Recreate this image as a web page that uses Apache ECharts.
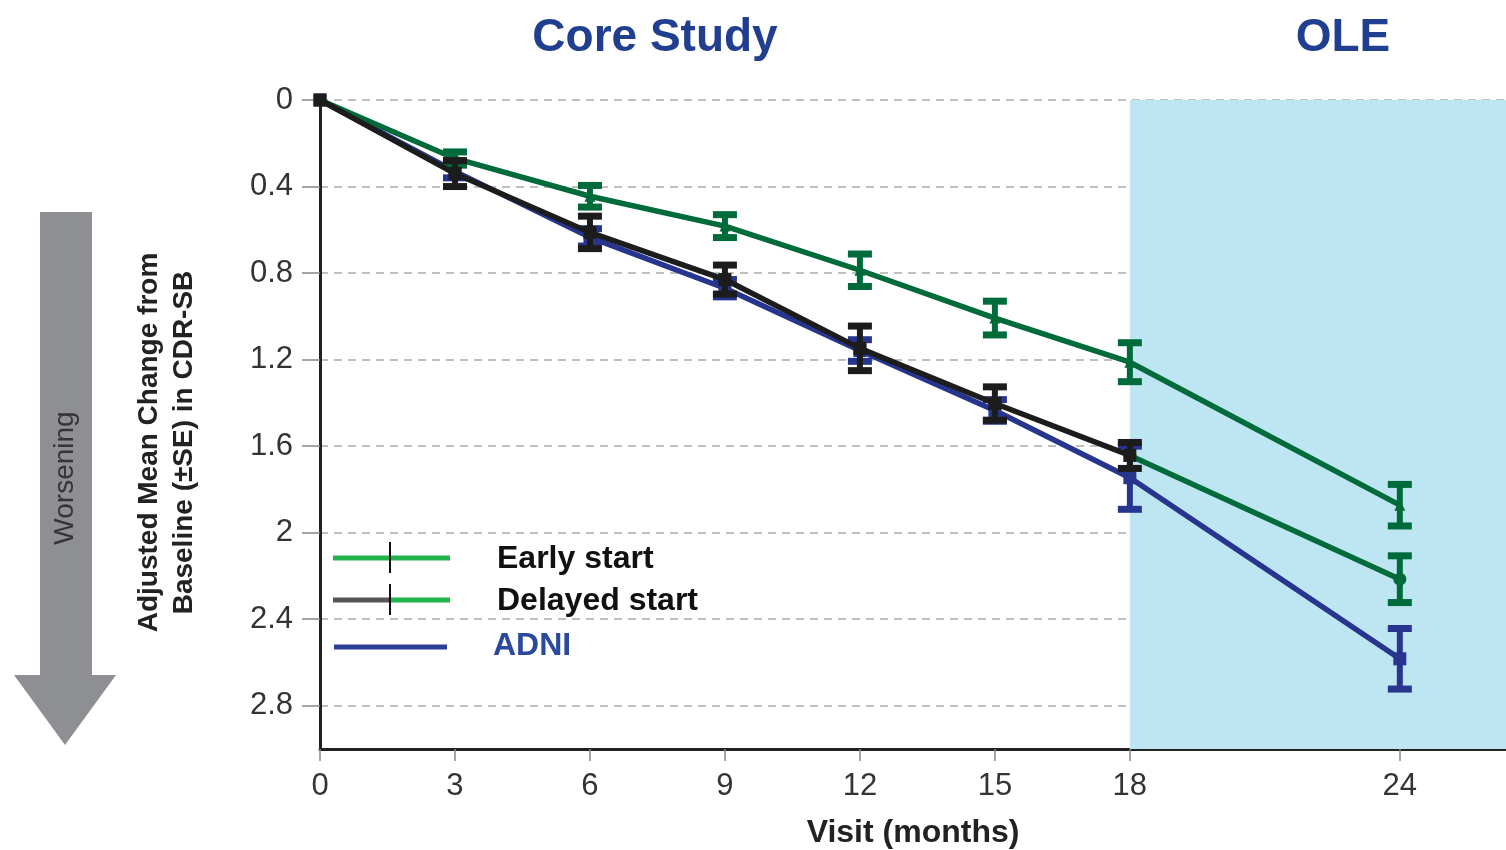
<!DOCTYPE html>
<html>
<head>
<meta charset="utf-8">
<script src="https://cdn.jsdelivr.net/npm/echarts@6/dist/echarts.min.js"></script>
<style>
html,body{margin:0;padding:0;background:#fff;}
#chart{width:1506px;height:850px;}
</style>
</head>
<body>
<div id="chart"></div>
<script>
// ---- data ----
const visits = [0, 3, 6, 9, 12, 15, 18, 24];
const earlyMean   = [0, 0.27, 0.445, 0.583, 0.787, 1.008, 1.212, 1.873];
const earlySE     = [0, 0.03, 0.05, 0.053, 0.075, 0.078, 0.09, 0.096];
const delayedMean = [0, 0.34, 0.612, 0.83, 1.148, 1.403, 1.643, 2.215];
const delayedSE   = [0, 0.06, 0.075, 0.067, 0.103, 0.077, 0.06, 0.108];
const adniMean    = [0, 0.33, 0.635, 0.87, 1.158, 1.435, 1.746, 2.583];
const adniSE      = [0, 0.03, 0.04, 0.04, 0.05, 0.05, 0.146, 0.14];
const xTickValues = [0, 3, 6, 9, 12, 15, 18, 24];
const yTickValues = [0, 0.4, 0.8, 1.2, 1.6, 2, 2.4, 2.8];
const oleStart = 18;
const xMax = 26.36;
const yMax = 3;
const seriesNames = ['Early start', 'Delayed start', 'ADNI'];
const periodTitles = ['Core Study', 'OLE'];

// ---- colours ----
const GREEN = '#006b3a';
const BLACK = '#1c1c1c';
const BLUE = '#27358f';

function pts(mean) { return visits.map((v, i) => [v, mean[i]]); }
function errs(mean, se) {
  return visits.map((v, i) => [v, mean[i] - se[i], mean[i] + se[i]]).filter((d, i) => se[i] > 0);
}
function errRender(colorFn) {
  return function (params, api) {
    const x = api.value(0), lo = api.value(1), hi = api.value(2);
    const a = api.coord([x, lo]), b = api.coord([x, hi]);
    const c = colorFn(x);
    const hw = 12;
    return {
      type: 'group',
      children: [
        { type: 'line', shape: { x1: a[0], y1: a[1], x2: b[0], y2: b[1] }, style: { stroke: c, lineWidth: 6 } },
        { type: 'line', shape: { x1: a[0] - hw, y1: a[1], x2: a[0] + hw, y2: a[1] }, style: { stroke: c, lineWidth: 7 } },
        { type: 'line', shape: { x1: b[0] - hw, y1: b[1], x2: b[0] + hw, y2: b[1] }, style: { stroke: c, lineWidth: 7 } }
      ]
    };
  };
}

const coreIdx = visits.map((v, i) => i).filter(i => visits[i] <= oleStart);
const oleIdx = visits.map((v, i) => i).filter(i => visits[i] >= oleStart);

const chart = echarts.init(document.getElementById('chart'), null, { renderer: 'canvas' });
const FONT = 'Liberation Sans, Arial, sans-serif';
const LW = 5.5;

const option = {
  animation: false,
  backgroundColor: '#ffffff',
  grid: { left: 320, top: 100, right: 0, bottom: 101, containLabel: false, outerBoundsMode: 'none' },
  xAxis: {
    type: 'value', min: 0, max: xMax,
    name: 'Visit (months)', nameLocation: 'middle', nameGap: 68,
    nameTextStyle: { fontFamily: FONT, fontSize: 32, fontWeight: 'bold', color: '#222' },
    axisLine: { show: true, onZero: false, lineStyle: { color: '#222', width: 3 } },
    axisTick: { show: true, customValues: xTickValues, length: 12, lineStyle: { color: '#888', width: 1.5 } },
    axisLabel: { customValues: xTickValues, fontFamily: FONT, fontSize: 31, color: '#333', margin: 22 },
    splitLine: { show: false }
  },
  yAxis: {
    type: 'value', inverse: true, min: 0, max: yMax, interval: 0.4,
    name: 'Adjusted Mean Change from\nBaseline (±SE) in CDR-SB', nameLocation: 'middle', nameRotate: 90, nameGap: 118,
    nameTextStyle: { fontFamily: FONT, fontSize: 28, fontWeight: 'bold', color: '#222', lineHeight: 35, padding: [0, 36, 0, 0] },
    axisLine: { show: true, onZero: false, lineStyle: { color: '#222', width: 3 } },
    axisTick: { show: true, customValues: yTickValues, length: 18, lineStyle: { color: '#888', width: 1.5 } },
    axisLabel: { customValues: yTickValues, fontFamily: FONT, fontSize: 31, color: '#333', margin: 27,
      formatter: v => String(Math.round(v * 10) / 10) },
    splitLine: { show: true, lineStyle: { color: '#aaaaaa', width: 1.5, type: [8, 6] } }
  },
  series: [
    {
      name: 'OLE period', type: 'line', data: [], z: -1, silent: true,
      markArea: { silent: true, itemStyle: { color: '#bde5f2' }, data: [[{ xAxis: oleStart }, { xAxis: xMax }]] }
    },
    { name: 'ADNI', type: 'line', data: pts(adniMean), z: 3, symbol: 'rect', symbolSize: 13,
      lineStyle: { color: BLUE, width: LW }, itemStyle: { color: BLUE } },
    { name: 'ADNI SE', type: 'custom', data: errs(adniMean, adniSE), z: 3, renderItem: errRender(() => BLUE) },
    { name: 'Early start', type: 'line', data: pts(earlyMean), z: 4, symbol: 'triangle', symbolSize: 11,
      lineStyle: { color: GREEN, width: LW }, itemStyle: { color: GREEN } },
    { name: 'Early start SE', type: 'custom', data: errs(earlyMean, earlySE), z: 4, renderItem: errRender(() => GREEN) },
    { name: 'Delayed start (OLE)', type: 'line', data: oleIdx.map(i => [visits[i], delayedMean[i]]), z: 5,
      symbol: 'circle', symbolSize: 13, lineStyle: { color: GREEN, width: LW }, itemStyle: { color: GREEN } },
    { name: 'Delayed start', type: 'line', data: coreIdx.map(i => [visits[i], delayedMean[i]]), z: 5,
      symbol: 'rect', symbolSize: 13, lineStyle: { color: BLACK, width: LW }, itemStyle: { color: BLACK } },
    { name: 'Delayed start SE', type: 'custom', data: errs(delayedMean, delayedSE), z: 5,
      renderItem: errRender(x => (x > oleStart ? GREEN : BLACK)) }
  ],
  graphic: [
    // period titles
    { type: 'text', x: 655, y: 38, style: { text: periodTitles[0], fill: '#213f91', font: 'bold 46px ' + FONT, align: 'center', verticalAlign: 'middle' } },
    { type: 'text', x: 1343, y: 38, style: { text: periodTitles[1], fill: '#213f91', font: 'bold 46px ' + FONT, align: 'center', verticalAlign: 'middle' } },
    // worsening arrow
    { type: 'polygon', shape: { points: [[40, 212], [92, 212], [92, 675], [116, 675], [65, 745], [14, 675], [40, 675]] },
      style: { fill: '#8e8f93' } },
    { type: 'text', x: 65, y: 478, rotation: Math.PI / 2, style: { text: 'Worsening', fill: '#353535', font: '28px ' + FONT, align: 'center', verticalAlign: 'middle' } },
    // legend
    { type: 'line', shape: { x1: 333, y1: 558, x2: 450, y2: 558 }, style: { stroke: '#22b34a', lineWidth: 5 } },
    { type: 'line', shape: { x1: 390, y1: 542, x2: 390, y2: 573 }, style: { stroke: '#111', lineWidth: 2 } },
    { type: 'text', x: 497, y: 559, style: { text: seriesNames[0], fill: '#111', font: 'bold 32px ' + FONT, verticalAlign: 'middle' } },
    { type: 'line', shape: { x1: 333, y1: 600, x2: 390, y2: 600 }, style: { stroke: '#555', lineWidth: 5 } },
    { type: 'line', shape: { x1: 390, y1: 600, x2: 450, y2: 600 }, style: { stroke: '#22b34a', lineWidth: 5 } },
    { type: 'line', shape: { x1: 390, y1: 584, x2: 390, y2: 615 }, style: { stroke: '#111', lineWidth: 2 } },
    { type: 'text', x: 497, y: 601, style: { text: seriesNames[1], fill: '#111', font: 'bold 32px ' + FONT, verticalAlign: 'middle' } },
    { type: 'line', shape: { x1: 334, y1: 647, x2: 447, y2: 647 }, style: { stroke: '#2a3f96', lineWidth: 5 } },
    { type: 'text', x: 493, y: 646, style: { text: seriesNames[2], fill: '#2b4a9e', font: 'bold 32px ' + FONT, verticalAlign: 'middle' } }
  ]
};
chart.setOption(option);
</script>
</body>
</html>
